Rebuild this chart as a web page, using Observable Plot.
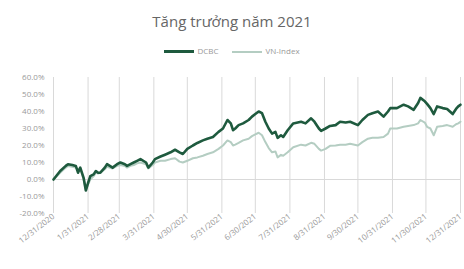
<!DOCTYPE html>
<html>
<head>
<meta charset="utf-8">
<script src="https://cdn.jsdelivr.net/npm/d3@7"></script>
<script src="https://cdn.jsdelivr.net/npm/@observablehq/plot@0.6"></script>
<style>
  body { margin: 0; background: #fff; font-family: "Open Sans", sans-serif; }
  #wrap { width: 464px; height: 269px; position: relative; overflow: hidden; }
  #title { position: absolute; top: 11px; left: 0; width: 464px; text-align: center; font-size: 15px; color: #666; }
  #legend { position: absolute; top: 45px; left: 0; width: 464px; display: flex; justify-content: center; gap: 14px; font-size: 8px; color: #999; align-items: center; }
  .sw { display: inline-block; width: 30px; margin-right: 3px; vertical-align: middle; }
  #chart { position: absolute; top: 62px; left: 0; }
</style>
</head>
<body>
<div id="wrap">
  <div id="title">Tăng trưởng năm 2021</div>
  <div id="legend">
    <span><span class="sw" style="border-top:3px solid #1e5a3e"></span>DCBC</span>
    <span><span class="sw" style="border-top:2px solid #b4cdc2"></span>VN-Index</span>
  </div>
  <div id="chart"></div>
</div>
<script>
const dates = ["2020-12-31","2021-01-06","2021-01-11","2021-01-13","2021-01-17","2021-01-20","2021-01-22","2021-01-24","2021-01-27","2021-01-29","2021-01-31",
"2021-02-02","2021-02-05","2021-02-07","2021-02-09","2021-02-11","2021-02-15","2021-02-17","2021-02-22","2021-02-26",
"2021-03-01","2021-03-05","2021-03-07","2021-03-10","2021-03-13","2021-03-16","2021-03-19","2021-03-24","2021-03-26","2021-03-30",
"2021-04-01","2021-04-06","2021-04-10","2021-04-15","2021-04-19","2021-04-23","2021-04-26","2021-04-30",
"2021-05-05","2021-05-09","2021-05-14","2021-05-18","2021-05-23","2021-05-28",
"2021-06-01","2021-06-05","2021-06-08","2021-06-10","2021-06-12","2021-06-15","2021-06-19","2021-06-24","2021-06-27","2021-06-30",
"2021-07-03","2021-07-06","2021-07-09","2021-07-12","2021-07-15","2021-07-18","2021-07-20","2021-07-23","2021-07-25","2021-07-29",
"2021-08-03","2021-08-10","2021-08-14","2021-08-19","2021-08-22","2021-08-26","2021-08-28",
"2021-09-01","2021-09-05","2021-09-10","2021-09-14","2021-09-19","2021-09-23","2021-09-30",
"2021-10-04","2021-10-09","2021-10-13","2021-10-18","2021-10-23","2021-10-27","2021-10-29",
"2021-11-04","2021-11-10","2021-11-14","2021-11-19","2021-11-23","2021-11-25","2021-11-29",
"2021-12-01","2021-12-04","2021-12-07","2021-12-10","2021-12-15","2021-12-19","2021-12-24","2021-12-27","2021-12-29","2021-12-31"];

const dcbc = [0,5,8,9,8.5,8,4,7,1,-6.5,-2,
2,3,5,4,4,7,9,7,9,
10,9,8,9,10,11,12,10,7,10,
12,13.5,14.6,16,17.5,16,15,18,
20,21.5,23,24,25,28,
30,35,33,29,30,32,33,35,37,38.5,
40,39,34,30,27,28,24.5,26,25,29,
33,34,33,36,34,30,28.6,
30,31.5,32,34,33.5,34,32,
35,38,39,40,37,40,42,
42,44,43,41,45,48,46,
44.5,42,38.5,43,42,41.5,38.5,41.5,43,44];

const vnindex = [0,4,7,8,7.5,7,6,6.5,0,-6,-3,
0,2,4,3.5,4,6,7.5,6.5,8,
8.5,8,7,8,8.5,9.5,10,9,6.5,8.5,
10,11,11,12,12.5,10.5,10,11,
12.5,13,14,15,16,18,
20,23,22,20,20.5,21.5,23,24,25.5,26.5,
27.5,26,22,18.5,16,16.5,13,14.5,14,16,
19,20.5,20,21.6,21,18,17,
18,19.8,20,20.5,20.5,21,20,
22,24,24.5,24.5,25,27,30,
30,31,31.5,32,33,35,33.5,
31,30,26,31,31.5,32,31,32.5,33,34];

const tickDates = ["2020-12-31","2021-01-31","2021-02-28","2021-03-31","2021-04-30","2021-05-31","2021-06-30","2021-07-31","2021-08-31","2021-09-30","2021-10-31","2021-11-30","2021-12-31"];
const yTicks = [60,50,40,30,20,10,0,-10,-20];

const parse = d3.utcParse("%Y-%m-%d");
const vnRows = dates.map((d,i) => ({date: parse(d), value: vnindex[i]}));
const dcRows = dates.map((d,i) => ({date: parse(d), value: dcbc[i]}));
const fmtDate = d => `${d.getUTCMonth()+1}/${d.getUTCDate()}/${d.getUTCFullYear()}`;

const chart = Plot.plot({
  width: 464,
  height: 207,
  marginLeft: 53,
  marginRight: 4,
  marginTop: 15,
  marginBottom: 56,
  style: {fontFamily: "Open Sans, sans-serif", fontSize: "8px", color: "#9a9a9a", background: "transparent"},
  x: {type: "utc", domain: [parse("2020-12-31"), parse("2021-12-31")], label: null},
  y: {domain: [-20, 60], label: null},
  marks: [
    Plot.ruleY([0], {stroke: "#d9d9d9", strokeWidth: 1}),
    Plot.tickX(tickDates.map(parse), {y1: -0.1, y2: -1.2, stroke: "#d9d9d9"}),
    Plot.axisY({ticks: yTicks, tickSize: 0, tickPadding: 9, tickFormat: d => d.toFixed(1) + "%", fill: "#9a9a9a", label: null}),
    Plot.axisX({ticks: tickDates.map(parse), tickSize: 0, tickRotate: -38, tickPadding: 2, tickFormat: fmtDate, fill: "#9a9a9a", label: null}),
    Plot.line(vnRows, {x: "date", y: "value", stroke: "#b4cdc2", strokeWidth: 2}),
    Plot.line(dcRows, {x: "date", y: "value", stroke: "#1e5a3e", strokeWidth: 2.6})
  ]
});
document.getElementById("chart").appendChild(chart);
</script>
</body>
</html>
